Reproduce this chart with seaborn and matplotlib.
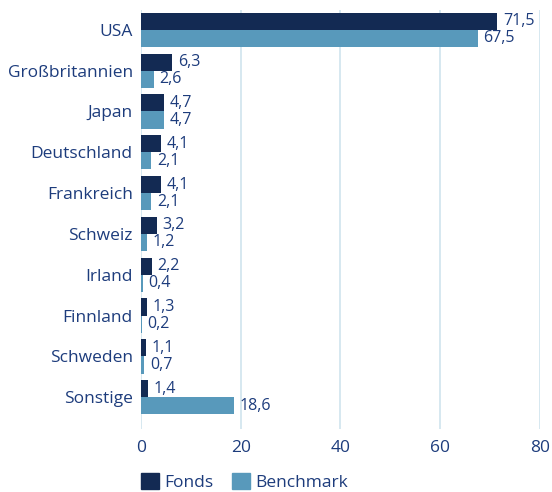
import pandas as pd
import numpy as np
import matplotlib.pyplot as plt
import seaborn as sns

# Daten
laender = ['USA', 'Großbritannien', 'Japan', 'Deutschland', 'Frankreich',
           'Schweiz', 'Irland', 'Finnland', 'Schweden', 'Sonstige']
fonds = [71.5, 6.3, 4.7, 4.1, 4.1, 3.2, 2.2, 1.3, 1.1, 1.4]
benchmark = [67.5, 2.6, 4.7, 2.1, 2.1, 1.2, 0.4, 0.2, 0.7, 18.6]
x_ticks = [0, 20, 40, 60, 80]

df = pd.DataFrame({
    'Land': laender * 2,
    'Wert': fonds + benchmark,
    'Serie': ['Fonds'] * len(laender) + ['Benchmark'] * len(laender),
})

text_farbe = '#1d3c7c'
grid_farbe = '#cfe4ee'
farben = ['#132a53', '#5899bb']

sns.set_style('white')
plt.rcParams['font.family'] = ['Open Sans', 'DejaVu Sans']

fig = plt.figure(figsize=(5.52, 4.92), dpi=100)
ax = fig.add_axes([0.2554, 0.128, 0.7226, 0.852])

sns.barplot(data=df, y='Land', x='Wert', hue='Serie', orient='h',
            palette=farben, saturation=1, width=0.84, linewidth=0,
            ax=ax, legend=False)

for cont in ax.containers:
    ax.bar_label(cont, labels=[f'{v:.1f}'.replace('.', ',') for v in cont.datavalues],
                 padding=4, fontsize=11.5, color=text_farbe)

ax.set_xlim(0, 80)
ax.set_ylim(9.78, -0.49)
ax.set_xticks(x_ticks)
ax.grid(axis='x', color=grid_farbe, linewidth=1.2)
ax.set_axisbelow(True)
for s in ax.spines.values():
    s.set_visible(False)
ax.tick_params(axis='both', length=0, labelsize=12.5, labelcolor=text_farbe, pad=6)
ax.tick_params(axis='x', pad=8)
ax.set_xlabel('')
ax.set_ylabel('')

handles = [plt.Rectangle((0, 0), 1, 1, color=c) for c in farben]
fig.legend(handles, ['Fonds', 'Benchmark'], loc='lower left',
           bbox_to_anchor=(0.228, -0.03), ncol=2, frameon=False,
           handlelength=1.0, handleheight=1.0, handletextpad=0.3,
           columnspacing=1.1, prop={'size': 12.5}, labelcolor=text_farbe)

fig.savefig('out.png', dpi=100)
